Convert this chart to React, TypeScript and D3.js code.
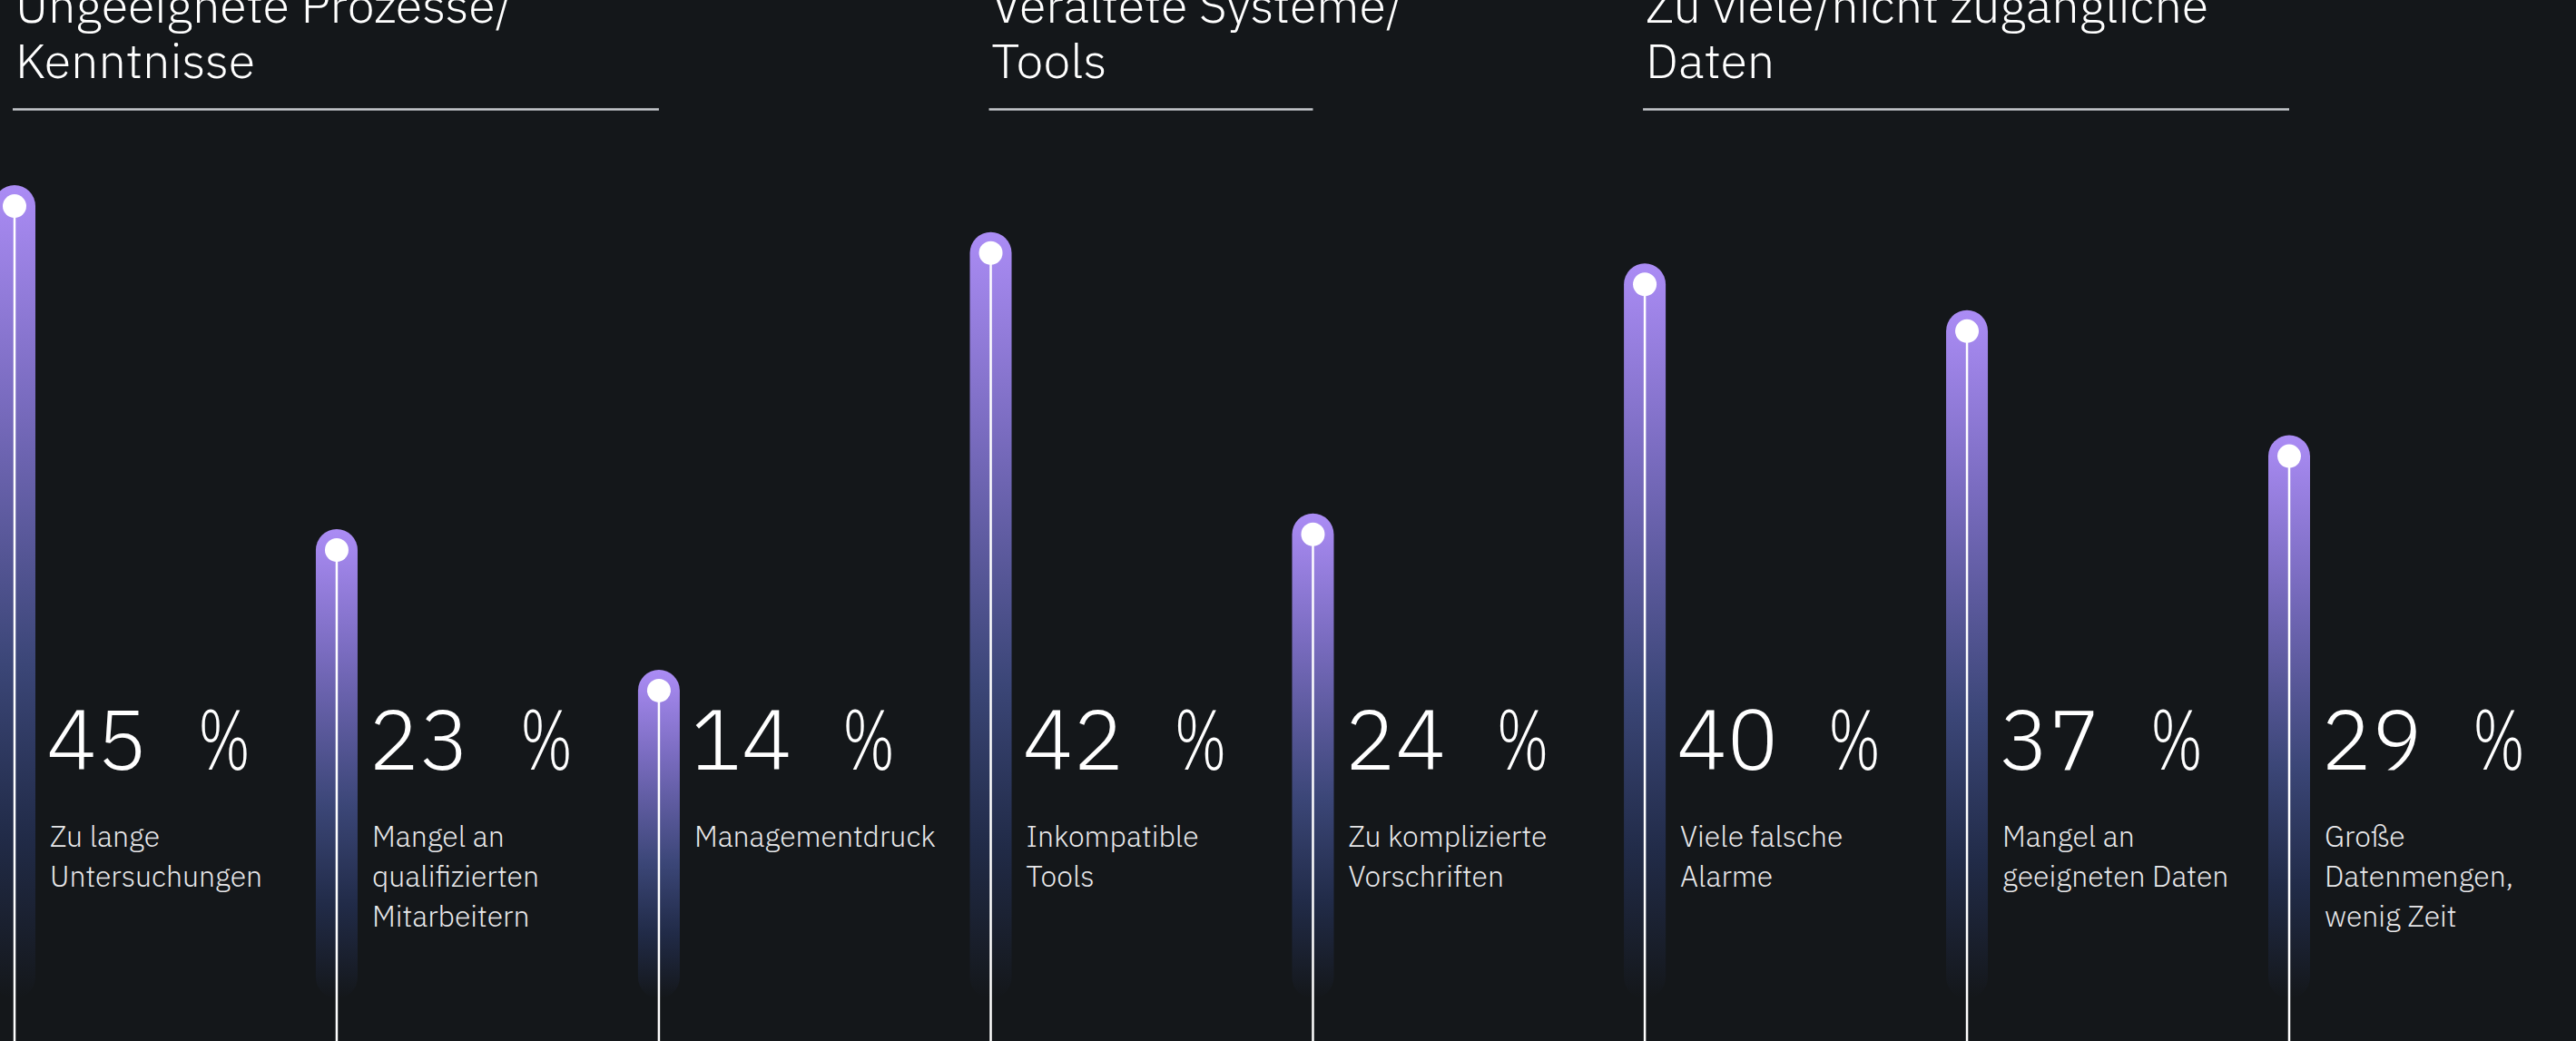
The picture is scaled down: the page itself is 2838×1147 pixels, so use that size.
import React from "react";
import * as d3 from "d3";

const groupTitles: string[][] = [
  ["Ungeeignete Prozesse/", "Kenntnisse"],
  ["Veraltete Systeme/", "Tools"],
  ["Zu viele/nicht zugängliche", "Daten"],
];
const groupOf: number[] = [0, 0, 0, 1, 1, 2, 2, 2];
const categories: string[] = [
  "lange", "mitarbeiter", "management", "tools", "vorschriften", "alarme", "daten", "mengen",
];
const values: number[] = [45, 23, 14, 42, 24, 40, 37, 29];
const labels: string[][] = [
  ["Zu lange", "Untersuchungen"],
  ["Mangel an", "qualifizierten", "Mitarbeitern"],
  ["Managementdruck"],
  ["Inkompatible", "Tools"],
  ["Zu komplizierte", "Vorschriften"],
  ["Viele falsche", "Alarme"],
  ["Mangel an", "geeigneten Daten"],
  ["Große", "Datenmengen,", "wenig Zeit"],
];

const W = 2838;
const H = 1147;
const BG = "#14171a";
const SANS = "'IBM Plex Sans', Roboto, 'Open Sans', sans-serif";
const GROUP_GAP = 0.03;

export default function App() {
  const slot = categories.map((_, i) => i + groupOf[i] * GROUP_GAP);
  const x = d3
    .scaleLinear()
    .domain([0, d3.max(slot)!])
    .range([16, 2522]);
  const xi = (i: number) => x(slot[i]);
  const y = d3.scaleLinear().domain([0, 50]).range([1002, 141]);
  const barW = 46;
  const barBottom = 1100;
  const numBase = 848;
  const labelBase = 933;
  const labelStep = 44;

  const groups = groupTitles.map((t, gi) => {
    const idx = categories.map((_, i) => i).filter((i) => groupOf[i] === gi);
    return { title: t, x0: xi(idx[0]), x1: xi(idx[idx.length - 1]) };
  });

  return (
    <svg
      width={W}
      height={H}
      style={{ position: "fixed", left: 0, top: 0, display: "block" }}
    >
      <defs>
        <linearGradient id="barGrad" x1="0" y1="0" x2="0" y2="1">
          <stop offset="0" stopColor="#ab8cf5" />
          <stop offset="0.26" stopColor="#7a6cc0" />
          <stop offset="0.59" stopColor="#3b4677" />
          <stop offset="0.8" stopColor="#212b48" />
          <stop offset="1" stopColor={BG} stopOpacity={1} />
        </linearGradient>
      </defs>
      <rect x={0} y={0} width={W} height={H} fill={BG} />

      {groups.map((g, gi) => (
        <g key={gi}>
          {g.title.map((line, li) => (
            <text
              key={li}
              x={g.x0 + 1}
              y={25 + li * 61}
              fill="#ffffff"
              fontFamily={SANS}
              fontWeight={300}
              fontSize={54}
            >
              {line}
            </text>
          ))}
          <line
            x1={g.x0 - 2}
            x2={g.x1}
            y1={120.5}
            y2={120.5}
            stroke="#c5c8cc"
            strokeWidth={2.5}
          />
        </g>
      ))}

      {categories.map((c, i) => {
        const cx = xi(i);
        const cy = y(values[i]);
        return (
          <g key={c}>
            <rect
              x={cx - barW / 2}
              y={cy - barW / 2}
              width={barW}
              height={barBottom - (cy - barW / 2)}
              rx={barW / 2}
              fill="url(#barGrad)"
            />
            <line x1={cx} x2={cx} y1={cy} y2={H} stroke="#ffffff" strokeWidth={2.5} />
            <circle cx={cx} cy={cy} r={13} fill="#ffffff" />
            <text
              x={cx + 35}
              y={numBase}
              fill="#ffffff"
              fontFamily={SANS}
              fontWeight={300}
              fontSize={93}
            >
              {values[i]}
            </text>
            <text
              x={cx + 35 + 167}
              y={numBase}
              fill="#ffffff"
              fontFamily={SANS}
              fontWeight={300}
              fontSize={93}
              textLength={58}
              lengthAdjust="spacingAndGlyphs"
            >
              %
            </text>
            {labels[i].map((l, li) => (
              <text
                key={li}
                x={cx + 39}
                y={labelBase + li * labelStep}
                fill="#e8e8ea"
                fontFamily={SANS}
                fontWeight={300}
                fontSize={32}
              >
                {l}
              </text>
            ))}
          </g>
        );
      })}
    </svg>
  );
}
